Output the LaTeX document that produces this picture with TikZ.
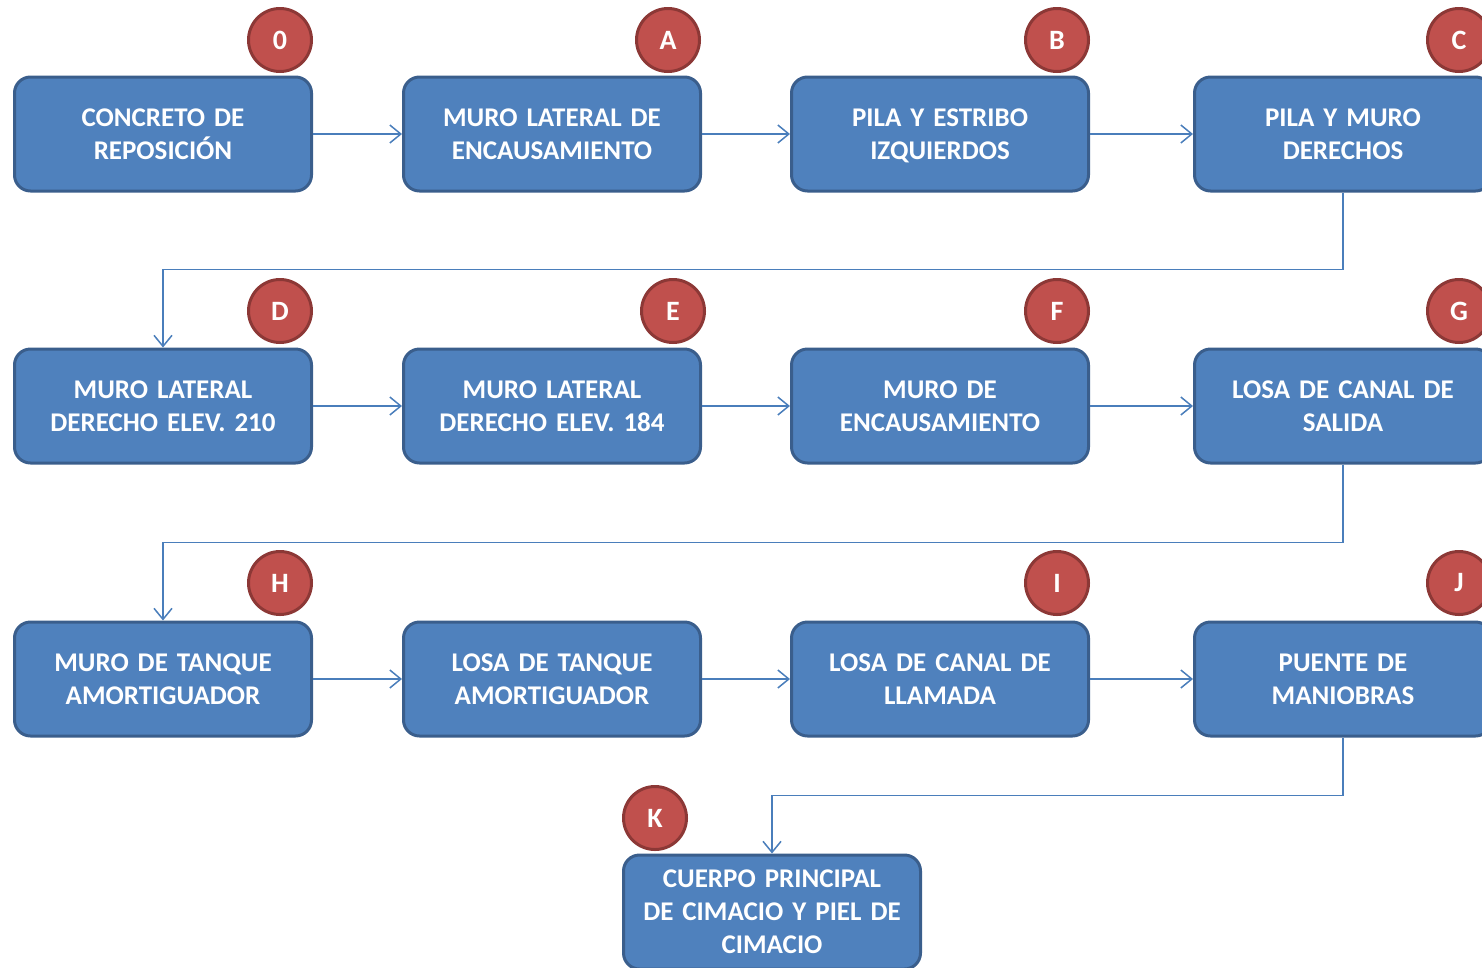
\documentclass[tikz,border=0pt]{standalone}
\usepackage{fontspec}
\setmainfont{Carlito}
\usepackage{tikz}
\usetikzlibrary{arrows.meta,positioning}
\definecolor{boxblue}{HTML}{4F81BD}
\definecolor{boxedge}{HTML}{3A5E8C}
\definecolor{tagred}{HTML}{C0504D}
\definecolor{tagedge}{HTML}{8C3836}
\definecolor{linkblue}{HTML}{4A7EBB}
\tikzset{
  actbox/.style={rectangle, rounded corners=16pt, draw=boxedge, line width=3pt, fill=boxblue,
    minimum width=297pt, minimum height=114pt, text width=285pt, align=center, inner sep=0pt,
    text=white, font=\fontsize{27}{33}\selectfont\bfseries},
  tag/.style={circle, draw=tagedge, line width=3pt, fill=tagred, minimum size=63pt, inner sep=0pt,
    text=white, font=\fontsize{28}{30}\selectfont\bfseries},
  link/.style={-{Straight Barb[length=11pt,width=18pt]}, draw=linkblue, line width=1.5pt}
}

\begin{document}
\begin{tikzpicture}[x=1pt, y=-1pt]
  \useasboundingbox (0,0) rectangle (1482,967);

  % Block Nodes
  \node[actbox] (b0) at (163, 134) {CONCRETO DE\\REPOSICIÓN};
  \node[actbox] (b1) at (552, 134) {MURO LATERAL DE\\ENCAUSAMIENTO};
  \node[actbox] (b2) at (940, 134) {PILA Y ESTRIBO\\\smash{IZQUIERDOS}};
  \node[actbox] (b3) at (1343, 134) {PILA Y MURO\\DERECHOS};

  \node[actbox] (b4) at (163, 406) {MURO LATERAL\\DERECHO ELEV. 210};
  \node[actbox] (b5) at (552, 406) {MURO LATERAL\\DERECHO ELEV. 184};
  \node[actbox] (b6) at (940, 406) {MURO DE\\ENCAUSAMIENTO};
  \node[actbox] (b7) at (1343, 406) {LOSA DE CANAL DE\\SALIDA};

  \node[actbox] (b8) at (163, 679) {MURO DE TANQUE\\AMORTIGUADOR};
  \node[actbox] (b9) at (552, 679) {LOSA DE TANQUE\\AMORTIGUADOR};
  \node[actbox] (b10) at (940, 679) {LOSA DE CANAL DE\\LLAMADA};
  \node[actbox] (b11) at (1343, 679) {PUENTE DE\\MANIOBRAS};

  \node[actbox] (b12) at (772, 912) {CUERPO PRINCIPAL\\DE CIMACIO Y PIEL DE\\CIMACIO};

  % Tags
  \node[tag] (t0) at (280, 40) {0};
  \node[tag] (tA) at (668, 40) {A};
  \node[tag] (tB) at (1057, 40) {B};
  \node[tag] (tC) at (1459, 40) {C};
  \node[tag] (tD) at (280, 311) {D};
  \node[tag] (tE) at (673, 311) {E};
  \node[tag] (tF) at (1057, 311) {F};
  \node[tag] (tG) at (1459, 311) {G};
  \node[tag] (tH) at (280, 583) {H};
  \node[tag] (tI) at (1057, 583) {I};
  \node[tag] (tJ) at (1459, 583) {J};
  \node[tag] (tK) at (655, 818) {K};

  % Links
  \draw[link] (b0) -- (b1);
  \draw[link] (b1) -- (b2);
  \draw[link] (b2) -- (b3);
  \draw[link] (b3.south) -- ++(0,77) -| (b4.north);
  \draw[link] (b4) -- (b5);
  \draw[link] (b5) -- (b6);
  \draw[link] (b6) -- (b7);
  \draw[link] (b7.south) -- ++(0,78) -| (b8.north);
  \draw[link] (b8) -- (b9);
  \draw[link] (b9) -- (b10);
  \draw[link] (b10) -- (b11);
  \draw[link] (b11.south) -- ++(0,58) -| (b12.north);
\end{tikzpicture}
\end{document}
